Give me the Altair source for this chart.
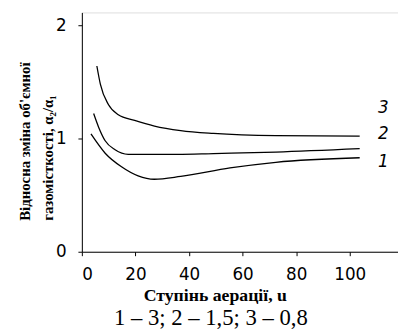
import altair as alt
import pandas as pd

# Curve data (u, a2/a1)
x1 = [3.4, 8.7, 14.8, 21.0, 27.0, 36.9, 55.3, 72.4, 103.7]
y1 = [1.04, 0.87, 0.75, 0.67, 0.64, 0.665, 0.74, 0.79, 0.83]
x2 = [4.4, 6.25, 8.7, 12.4, 17.3, 23.4, 35.7, 49.1, 72.4, 103.7]
y2 = [1.22, 1.10, 0.98, 0.90, 0.86, 0.86, 0.86, 0.867, 0.88, 0.91]
x3 = [5.6, 6.9, 9.9, 13.6, 19.7, 27.1, 36.9, 49.1, 72.4, 103.7]
y3 = [1.64, 1.48, 1.30, 1.21, 1.16, 1.11, 1.07, 1.045, 1.025, 1.02]

label_names = ["1", "2", "3"]
label_x = [112.5, 112.5, 112.5]
label_y = [0.79, 1.04, 1.27]

x_ticks = [0, 20, 40, 60, 80, 100]
y_ticks = [0.0, 1.0, 2.0]
note_text = ["1 – 3;  2 – 1,5; 3 – 0,8"]

rows = []
for name, xs, ys in (("1", x1, y1), ("2", x2, y2), ("3", x3, y3)):
    for xv, yv in zip(xs, ys):
        rows.append({"curve": name, "u": xv, "r": yv})
df = pd.DataFrame(rows)
lab = pd.DataFrame({"name": label_names, "u": label_x, "r": label_y})
note = pd.DataFrame({"t": note_text})

xs = alt.Scale(domain=[0, 118], nice=False, zero=False)
ys = alt.Scale(domain=[0, 2.113], nice=False, zero=False)

lines = alt.Chart(df).mark_line(color="black", strokeWidth=1.3, interpolate="monotone").encode(
    x=alt.X("u:Q", scale=xs, axis=alt.Axis(
        values=x_ticks, format="d", title="Ступінь аерації, u", grid=False, domainColor="black",
        tickColor="black", tickSize=4, labelPadding=11, labelFont="DejaVu Sans",
        labelFontSize=17, labelColor="black", labelOverlap=False, titleFont="Liberation Serif",
        titleFontSize=18, titleFontWeight="bold", titleColor="black",
        titleX=135, titleY=44, titleAnchor="middle", titleBaseline="middle")),
    y=alt.Y("r:Q", scale=ys, axis=alt.Axis(
        values=y_ticks, format=".0f", title=["Відносна зміна об'ємної", "газомісткості, α₂/α₁"],
        grid=False, domainColor="black", tickColor="black", tickSize=4,
        labelPadding=12, labelFont="DejaVu Sans", labelFontSize=17, labelColor="black",
        labelOverlap=False, labelFlush=False,
        titleFont="Liberation Serif", titleFontSize=15, titleFontWeight="bold",
        titleColor="black", titleX=-50, titleY=211, titleAlign="left",
        titleLineHeight=23)),
    detail="curve:N",
)

labels = alt.Chart(lab).mark_text(font="DejaVu Sans", fontSize=17, fontStyle="italic",
                                  color="black", baseline="middle", align="center").encode(
    x=alt.X("u:Q", scale=xs), y=alt.Y("r:Q", scale=ys), text="name:N")

note_mark = alt.Chart(note).mark_text(font="Liberation Serif", fontSize=23, color="black",
                                      baseline="middle", align="center").encode(
    x=alt.value(131), y=alt.value(310), text="t:N")

chart = alt.layer(lines, labels, note_mark).properties(
    width=321, height=243,
    autosize=alt.AutoSizeParams(type="none"),
    padding={"left": 75, "top": 2, "right": 0, "bottom": 80},
).configure_view(stroke=None).configure(background="white")

chart.save("out.html", embed_options={"renderer": "svg", "actions": False})
